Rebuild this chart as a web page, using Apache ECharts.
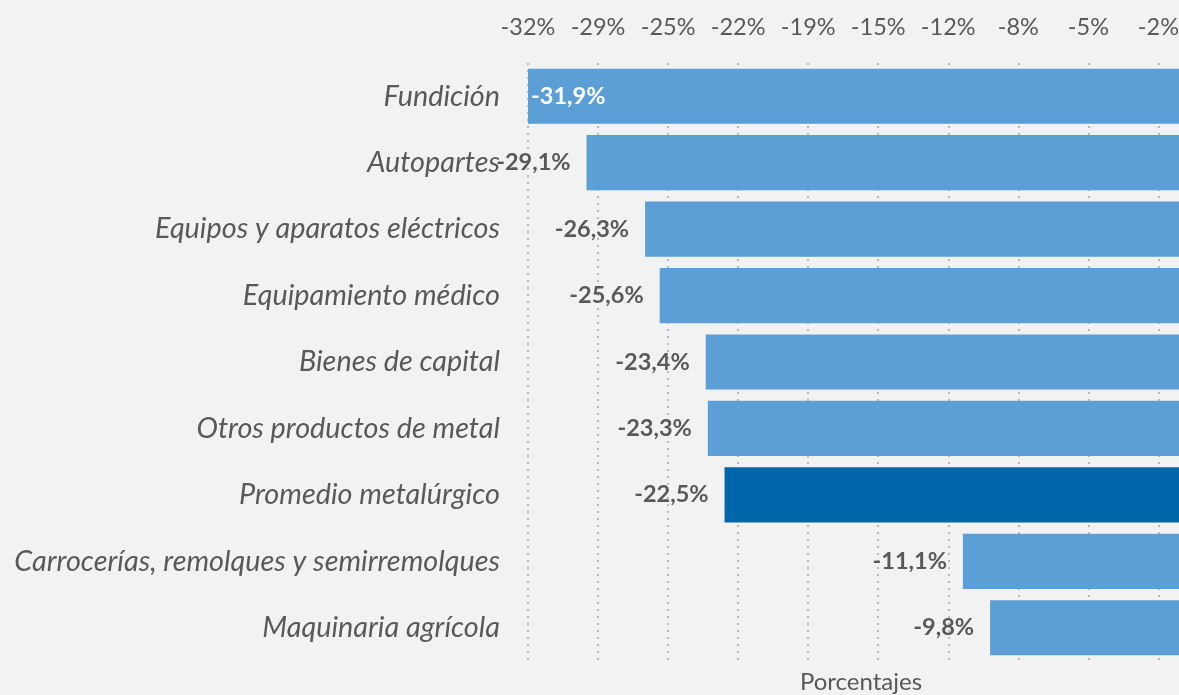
<!DOCTYPE html>
<html>
<head>
<meta charset="utf-8">
<script src="https://cdn.jsdelivr.net/npm/echarts@6/dist/echarts.min.js"></script>
<style>
  html, body { margin: 0; padding: 0; background: #f2f2f2; }
  #chart { width: 1179px; height: 695px; }
</style>
</head>
<body>
<div id="chart"></div>
<script>
var categories = [
    'Fundición', 'Autopartes', 'Equipos y aparatos eléctricos', 'Equipamiento médico',
    'Bienes de capital', 'Otros productos de metal', 'Promedio metalúrgico',
    'Carrocerías, remolques y semirremolques', 'Maquinaria agrícola'
];
var values = [-31.9, -29.1, -26.3, -25.6, -23.4, -23.3, -22.5, -11.1, -9.8];
var highlighted = 'Promedio metalúrgico';
var tickLabels = ['-32%', '-29%', '-25%', '-22%', '-19%', '-15%', '-12%', '-8%', '-5%', '-2%'];

var textColor = '#595959';
var fontName = 'Lato';

var myChart = echarts.init(document.getElementById('chart'));

function fmt(v) {
    return v.toFixed(1).replace('.', ',') + '%';
}

myChart.setOption({
    backgroundColor: '#f2f2f2',
    animation: false,
    title: {
        text: 'Porcentajes',
        left: 861,
        top: 670,
        padding: 0,
        textAlign: 'center',
        textStyle: { fontFamily: fontName, fontSize: 24, lineHeight: 24, fontWeight: 'normal', color: textColor }
    },
    grid: {
        left: 528,
        right: -16,
        top: 63,
        bottom: 34,
        outerBoundsMode: 'none'
    },
    xAxis: {
        type: 'value',
        position: 'top',
        min: -31.9,
        max: 0,
        interval: 3.35,
        axisLine: { show: false },
        axisTick: { show: false },
        axisLabel: {
            margin: 24,
            fontFamily: fontName,
            fontSize: 23.5,
            color: textColor,
            formatter: function (v, i) { return tickLabels[i] || ''; }
        },
        splitLine: {
            show: true,
            lineStyle: { color: '#a6a6a6', width: 1.5, type: [2, 5] }
        }
    },
    yAxis: {
        type: 'category',
        inverse: true,
        data: categories,
        axisLine: { show: false },
        axisTick: { show: false },
        axisLabel: {
            margin: 28,
            fontFamily: fontName,
            fontStyle: 'italic',
            fontSize: 28.8,
            color: textColor
        }
    },
    series: [
        {
            type: 'bar',
            barCategoryGap: '17%',
            data: values.map(function (v, i) {
                var item = { value: v };
                if (categories[i] === highlighted) {
                    item.itemStyle = { color: '#0065a9' };
                }
                if (i === 0) {
                    item.label = { position: 'insideLeft', distance: 3, color: '#ffffff' };
                }
                return item;
            }),
            itemStyle: { color: '#5b9fd6' },
            label: {
                show: true,
                position: 'left',
                distance: 16,
                fontFamily: fontName,
                fontSize: 23.5,
                fontWeight: 'bold',
                color: textColor,
                formatter: function (p) { return fmt(p.value); }
            }
        }
    ]
});
</script>
</body>
</html>
